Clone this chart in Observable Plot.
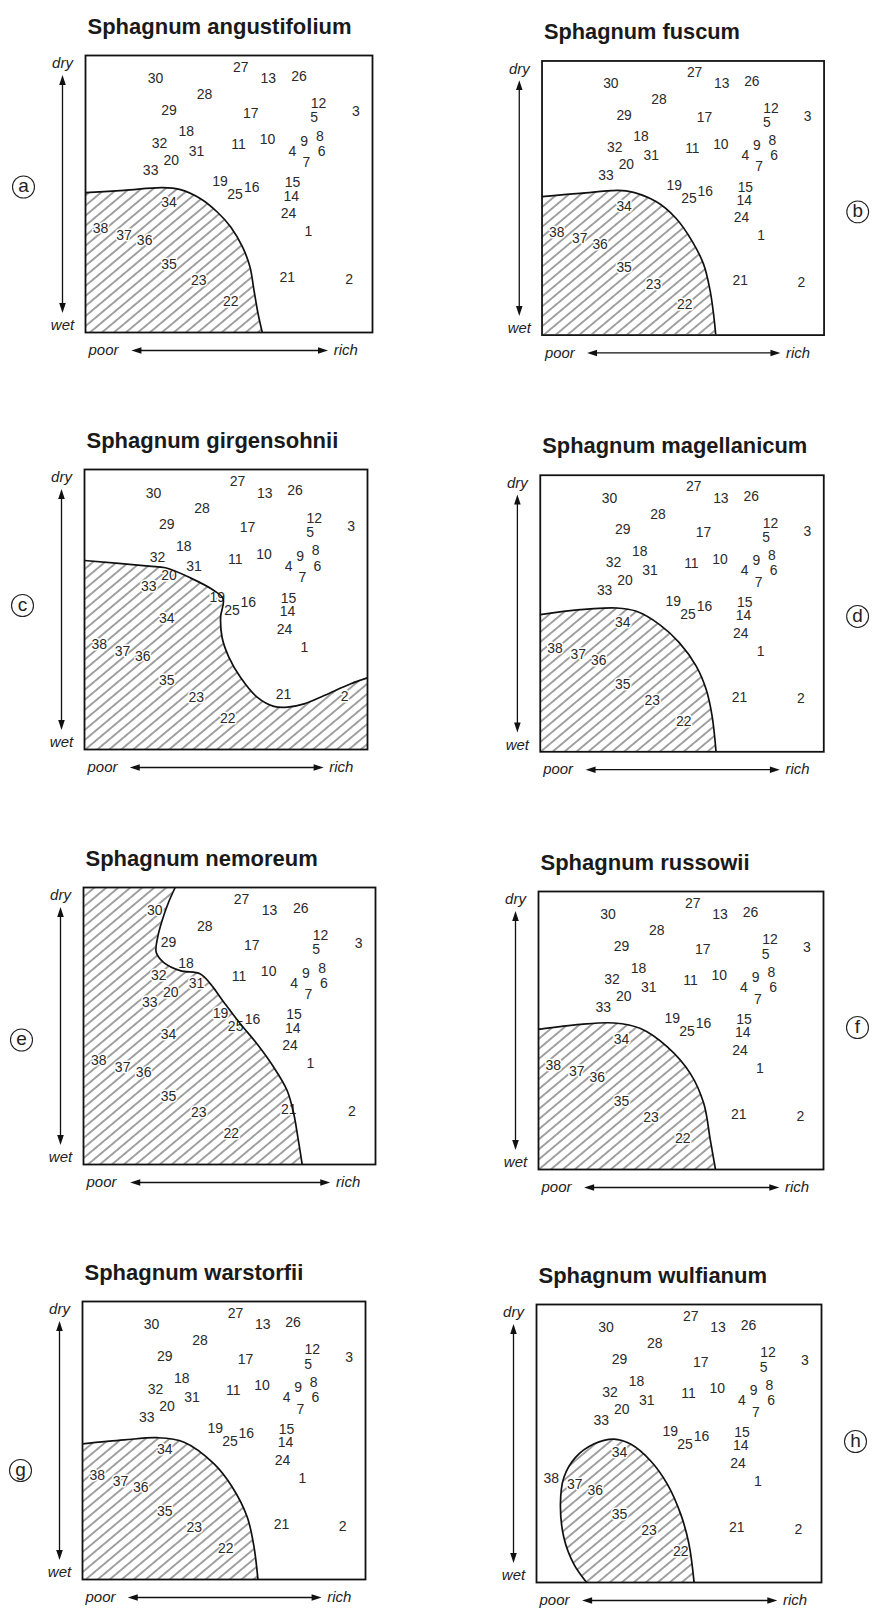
<!DOCTYPE html>
<html><head><meta charset="utf-8">
<script src="https://cdn.jsdelivr.net/npm/d3@7"></script>
<script src="https://cdn.jsdelivr.net/npm/@observablehq/plot@0.6"></script>
<style>
body{margin:0;background:#fff;}
#page{position:relative;width:878px;height:1609px;overflow:hidden;background:#fff;}
.panel{position:absolute;}
</style></head><body>
<svg width="0" height="0" style="position:absolute"><defs>
<pattern id="hatch" patternUnits="userSpaceOnUse" width="7.7" height="7.7" patternTransform="rotate(50)">
<line x1="3.85" y1="-1" x2="3.85" y2="8.7" stroke="#3a3a3a" stroke-width="0.95"/>
</pattern></defs></svg>
<div id="page"></div>
<script>
// ---- data: sites in the ordination (x: poor -> rich, y: wet -> dry), 0..100 ----
const siteIds = [1,2,3,4,5,6,7,8,9,10,11,12,13,14,15,16,17,18,19,20,21,22,23,24,25,26,27,28,29,30,31,32,33,34,35,36,37,38];
const siteX = [77.7,91.9,94.2,72.1,79.7,82.3,77.0,81.7,76.2,63.4,53.3,81.2,63.7,71.7,72.1,57.9,57.6,35.1,46.9,29.9,70.3,50.6,39.5,70.7,52.1,74.4,54.1,41.5,29.1,24.4,38.7,25.8,22.7,29.1,29.1,20.6,13.4,5.2];
const siteY = [36.3,19.1,79.8,65.5,77.5,65.4,61.3,70.9,69.1,69.6,67.9,82.6,91.6,49.2,54.0,52.5,79.2,72.4,54.4,62.1,19.8,11.1,18.6,42.9,49.8,92.4,95.8,85.9,80.2,91.6,65.4,68.4,58.3,46.8,24.5,33.1,35.1,37.5];

// ---- species distribution boundaries ([richness, moisture]) ----
const boundaryAngustifolium = [[0,50.5],[13.4,51.3],[26.7,52.3],[33.1,51.6],[40.1,48.3],[45.9,43.5],[50.6,38.1],[54.7,30.9],[57.3,23.7],[58.7,15.3],[60.1,6.9],[61.6,0]];
const boundaryFuscum = [[0,50.5],[13.5,51.7],[29.8,52.6],[40.4,48.7],[47.4,42.7],[53.2,34.3],[57.3,25.8],[59.6,16.2],[60.8,7.8],[61.6,0]];
const boundaryGirgensohnii = [[0,67.5],[22.7,65.5],[28.6,64.9],[37.4,61.3],[45.7,56.8],[49.0,53.8],[48.1,47.3],[48.6,40.1],[51.0,33.0],[55.1,25.8],[61.0,18.7],[66.9,15.4],[71.7,15.1],[77.6,16.3],[84.7,19.3],[94.1,23.5],[100,25.6]];
const boundaryMagellanicum = [[0,49.6],[14.0,51.4],[26.9,52.0],[33.9,50.8],[42.1,46.0],[49.1,39.4],[55.0,31.0],[58.5,22.6],[60.6,13.0],[62.0,0]];
const boundaryNemoreum = [[31.4,100],[29.1,94.6],[26.9,88.0],[25.4,82.0],[24.9,76.6],[27.4,73.0],[33.1,70.0],[40.0,68.8],[43.4,65.3],[48.0,58.7],[53.7,50.8],[59.4,43.6],[65.1,35.2],[69.7,26.8],[72.0,18.3],[73.4,9.9],[74.9,0]];
const boundaryRussowii = [[0,50.4],[14.8,52.2],[26.5,52.7],[35.8,50.7],[45.2,44.1],[53.3,34.5],[58.0,23.7],[60.3,10.5],[62.1,0]];
const boundaryWarnstorfii = [[0,48.8],[14.7,50.2],[26.5,51.0],[35.9,49.4],[46.5,41.6],[52.9,33.3],[58.2,22.5],[60.6,11.7],[62.0,0]];
const boundaryWulfianum = [[17.6,0],[13.1,6.6],[9.6,16.2],[8.4,28.2],[9.6,37.8],[13.7,45.0],[20.1,49.8],[27.2,51.6],[33.0,49.8],[40.0,43.8],[45.9,35.4],[50.6,24.6],[53.5,13.8],[55.3,0]];

const titles = ["Sphagnum angustifolium","Sphagnum fuscum","Sphagnum girgensohnii","Sphagnum magellanicum","Sphagnum nemoreum","Sphagnum russowii","Sphagnum warstorfii","Sphagnum wulfianum"];
const letters = ["a","b","c","d","e","f","g","h"];
const boundaries = [boundaryAngustifolium,boundaryFuscum,boundaryGirgensohnii,boundaryMagellanicum,boundaryNemoreum,boundaryRussowii,boundaryWarnstorfii,boundaryWulfianum];
const regionKinds = ["below","below","below","below","left","below","below","closed"];

// axis annotation extents (in % of the frame)
const moistureArrow = {from: 7, to: 93};
const richnessArrow = {from: 16, to: 84.5, richLabel: 86.5};

// ---- page layout (frame box in page pixels) ----
const layout = [
  {left:85, top:55, w:287, h:277, side:"left", letterDy:-7},
  {left:542, top:61, w:285, h:277, side:"right", letterDy:14},
  {left:84, top:469, w:283, h:280, side:"left", letterDy:-4},
  {left:540, top:475, w:285, h:278, side:"right", letterDy:3},
  {left:83, top:887, w:292, h:277, side:"left", letterDy:14},
  {left:538, top:891, w:285, h:278, side:"right", letterDy:-3},
  {left:82, top:1301, w:283, h:278, side:"left", letterDy:30},
  {left:536, top:1304, w:285, h:278, side:"right", letterDy:-2}
];

const FONT = "'Liberation Sans', Arial, Helvetica, sans-serif";
const page = document.getElementById("page");

function makePanel(i) {
  const L = layout[i];
  const mL = L.side === "left" ? 78 : 45;
  const mR = L.side === "left" ? 15 : 55;
  const mT = 50, mB = 35;
  const B = boundaries[i];
  const bx = d => d[0], by = d => d[1];
  const marks = [];
  if (regionKinds[i] === "below") {
    marks.push(Plot.areaY(B, {x: bx, y: by, fill: "url(#hatch)", curve: "catmull-rom", clip: true}));
  } else if (regionKinds[i] === "left") {
    marks.push(Plot.areaX(B, {x: bx, y: by, fill: "url(#hatch)", curve: "catmull-rom", clip: true}));
  } else {
    marks.push(Plot.line(B, {x: bx, y: by, fill: "url(#hatch)", stroke: "none", curve: "catmull-rom", clip: true}));
  }
  marks.push(Plot.text(siteIds, {x: siteX, y: siteY, text: siteIds.map(String), fontSize: 14, fill: "#2a2a2a", stroke: "white", strokeWidth: 3, textAnchor: "middle", lineAnchor: "middle"}));
  marks.push(Plot.line(B, {x: bx, y: by, stroke: "#111", strokeWidth: 1.7, curve: "catmull-rom", clip: true}));
  marks.push(Plot.frame({stroke: "#111", strokeWidth: 1.8}));
  // title
  marks.push(Plot.text([titles[i]], {x: () => 0, y: () => 100, dx: 2, dy: -22, text: d => d, textAnchor: "start", lineAnchor: "bottom", fontSize: 22, fontWeight: "bold", fill: "#1a1a1a"}));
  // moisture axis (dry / wet)
  marks.push(Plot.ruleX([0], {y1: () => moistureArrow.from + 2, y2: () => moistureArrow.to - 2, dx: -23, stroke: "#111", strokeWidth: 1.3}));
  marks.push(Plot.vector([moistureArrow.to, moistureArrow.from], {x: () => 0, y: d => d, dx: -23, rotate: d => d === moistureArrow.to ? 0 : 180, shape: "spike", anchor: "end", length: 10, r: 3.3, fill: "#111", stroke: "none"}));
  marks.push(Plot.text(["dry"], {x: () => 0, y: () => 100, dx: -23, dy: 8, text: d => d, fontStyle: "italic", fontSize: 15, textAnchor: "middle", lineAnchor: "middle", fill: "#222"}));
  marks.push(Plot.text(["wet"], {x: () => 0, y: () => 0, dx: -23, dy: -7, text: d => d, fontStyle: "italic", fontSize: 15, textAnchor: "middle", lineAnchor: "middle", fill: "#222"}));
  // richness axis (poor / rich)
  marks.push(Plot.ruleY([0], {x1: () => richnessArrow.from + 2, x2: () => richnessArrow.to - 2, dy: 18, stroke: "#111", strokeWidth: 1.3}));
  marks.push(Plot.vector([richnessArrow.from, richnessArrow.to], {x: d => d, y: () => 0, dy: 18, rotate: d => d === richnessArrow.to ? 90 : -90, shape: "spike", anchor: "end", length: 10, r: 3.3, fill: "#111", stroke: "none"}));
  marks.push(Plot.text(["poor"], {x: () => 0, y: () => 0, dx: 3, dy: 18, text: d => d, fontStyle: "italic", fontSize: 15, textAnchor: "start", lineAnchor: "middle", fill: "#222"}));
  marks.push(Plot.text(["rich"], {x: () => richnessArrow.richLabel, y: () => 0, dy: 18, text: d => d, fontStyle: "italic", fontSize: 15, textAnchor: "start", lineAnchor: "middle", fill: "#222"}));
  // circled panel letter
  const lx = L.side === "left" ? 0 : 100;
  const ldx = L.side === "left" ? -62 : 34;
  marks.push(Plot.dot([letters[i]], {x: () => lx, y: () => 50, dx: ldx, dy: L.letterDy, r: 11, stroke: "#222", strokeWidth: 1.1, fill: "white"}));
  marks.push(Plot.text([letters[i]], {x: () => lx, y: () => 50, dx: ldx, dy: L.letterDy - 1, text: d => d, fontSize: 19, textAnchor: "middle", lineAnchor: "middle", fill: "#222"}));

  const chart = Plot.plot({
    width: L.w + mL + mR,
    height: L.h + mT + mB,
    marginLeft: mL, marginRight: mR, marginTop: mT, marginBottom: mB,
    x: {domain: [0, 100], axis: null},
    y: {domain: [0, 100], axis: null},
    style: {background: "transparent", fontFamily: FONT, overflow: "visible"},
    marks
  });
  const div = document.createElement("div");
  div.className = "panel";
  div.style.left = (L.left - mL) + "px";
  div.style.top = (L.top - mT) + "px";
  div.appendChild(chart);
  page.appendChild(div);
}
for (let i = 0; i < 8; i++) makePanel(i);
</script>
</body></html>
